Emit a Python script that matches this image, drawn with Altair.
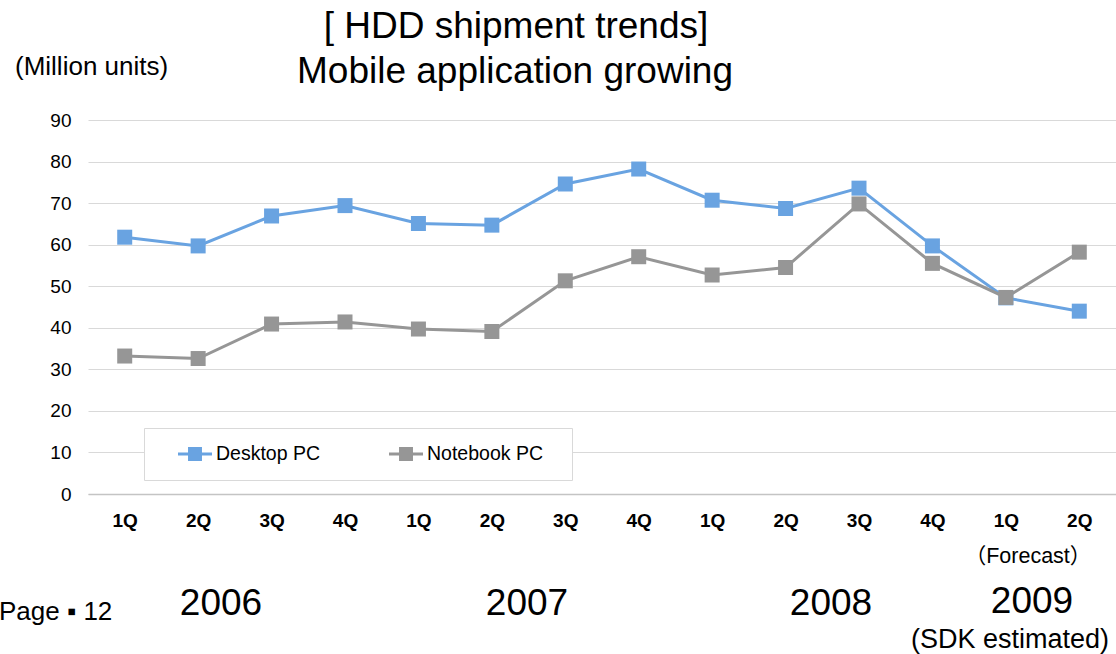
import altair as alt
import pandas as pd

# Quarterly HDD shipments (million units), 2006 1Q - 2009 2Q
years = ["2006"] * 4 + ["2007"] * 4 + ["2008"] * 4 + ["2009"] * 2
quarters = ["1Q", "2Q", "3Q", "4Q"] * 3 + ["1Q", "2Q"]
desktop = [61.8, 59.7, 66.9, 69.4, 65.1, 64.7, 74.6, 78.2, 70.7, 68.7, 73.6, 59.7, 47.2, 44.0]
notebook = [33.2, 32.6, 40.9, 41.4, 39.7, 39.1, 51.3, 57.1, 52.7, 54.5, 69.8, 55.5, 47.3, 58.2]

series_names = ["Desktop PC", "Notebook PC"]
series_colors = ["#69A3E1", "#969696"]
y_ticks = list(range(0, 91, 10))

title_lines = ["[ HDD shipment trends]", "Mobile application growing"]
unit_label = "(Million units)"
forecast_label = "（Forecast）"
year_labels = ["2006", "2007", "2008", "2009"]
source_label = "(SDK estimated)"
page_label = "Page ▪ 12"

FONT = "Liberation Sans, Arial, Noto Sans CJK JP, DejaVu Sans"

periods = [f"{y} {q}" for y, q in zip(years, quarters)]
df = pd.concat(
    [
        pd.DataFrame({"period": periods, "series": series_names[0], "value": desktop}),
        pd.DataFrame({"period": periods, "series": series_names[1], "value": notebook}),
    ],
    ignore_index=True,
)

# legend glyph: a short line with a square marker on it
LEGEND_SYMBOL = "M-1,-0.09H1V0.09H-1Z M-0.41,-0.41H0.41V0.41H-0.41Z"

x_enc = alt.X(
    "period:N",
    sort=periods,
    scale=alt.Scale(padding=0.5),
    axis=alt.Axis(
        title=None,
        ticks=False,
        domain=True,
        domainColor="#c4c4c4",
        domainWidth=1.5,
        grid=False,
        labelAngle=0,
        labelFontWeight="bold",
        labelFontSize=19,
        labelBaseline="middle",
        labelPadding=26,
        labelExpr="split(datum.label, ' ')[1]",
    ),
)
y_enc = alt.Y(
    "value:Q",
    scale=alt.Scale(domain=[0, 90], nice=False),
    axis=alt.Axis(
        title=None,
        ticks=False,
        domain=False,
        values=y_ticks,
        grid=True,
        gridColor="#d9d9d9",
        gridWidth=1,
        labelFontSize=19,
        labelPadding=17,
    ),
)

# the transparent right-hand title only widens the legend frame on that side
legend = alt.Legend(
    title="·",
    titleOrient="right",
    titleColor="transparent",
    titleFontSize=2,
    titlePadding=12,
    orient="none",
    legendX=56,
    legendY=308,
    direction="horizontal",
    symbolType=LEGEND_SYMBOL,
    symbolSize=1156,
    symbolStrokeWidth=0,
    symbolOffset=18,
    clipHeight=20,
    labelFont=FONT,
    labelFontSize=19.5,
    labelColor="black",
    labelOffset=4,
    columnPadding=50,
    padding=16,
    fillColor="white",
    strokeColor="#d9d9d9",
)

color_enc = alt.Color(
    "series:N",
    scale=alt.Scale(domain=series_names, range=series_colors),
    legend=legend,
)

base = alt.Chart(df)
layers = []
for name, col in zip(series_names, series_colors):
    sub = base.transform_filter(alt.datum.series == name)
    layers.append(sub.mark_line(color=col, strokeWidth=3).encode(x=x_enc, y=y_enc))
    layers.append(
        sub.mark_square(size=225, opacity=1, filled=True).encode(x=x_enc, y=y_enc, color=color_enc)
    )


def note(text, x, y, size, align="center"):
    return (
        alt.Chart(pd.DataFrame({"t": [text]}))
        .mark_text(align=align, baseline="alphabetic", font=FONT, fontSize=size, color="black")
        .encode(x=alt.value(x), y=alt.value(y), text="t:N")
    )


notes = [
    note(title_lines[0], 428, -82, 37),
    note(title_lines[1], 427, -37, 37),
    note(unit_label, -73, -45, 26, align="left"),
    note(forecast_label, 940, 443, 21.5),
    note(year_labels[0], 133, 495, 37),
    note(year_labels[1], 439, 495, 37),
    note(year_labels[2], 743, 495, 37),
    note(year_labels[3], 944, 493, 37),
    note(page_label, -89, 500, 26, align="left"),
    note(source_label, 823, 528, 27, align="left"),
]

chart = (
    alt.layer(*layers, *notes)
    .properties(
        width=1028,
        height=374,
        autosize=alt.AutoSizeParams(type="none"),
        padding={"left": 88, "top": 120, "right": 0, "bottom": 160},
        background="white",
    )
    .configure_view(stroke=None)
    .configure_axis(labelFont=FONT, labelColor="black")
)

chart.save("out.html", embed_options={"renderer": "svg", "actions": False})
